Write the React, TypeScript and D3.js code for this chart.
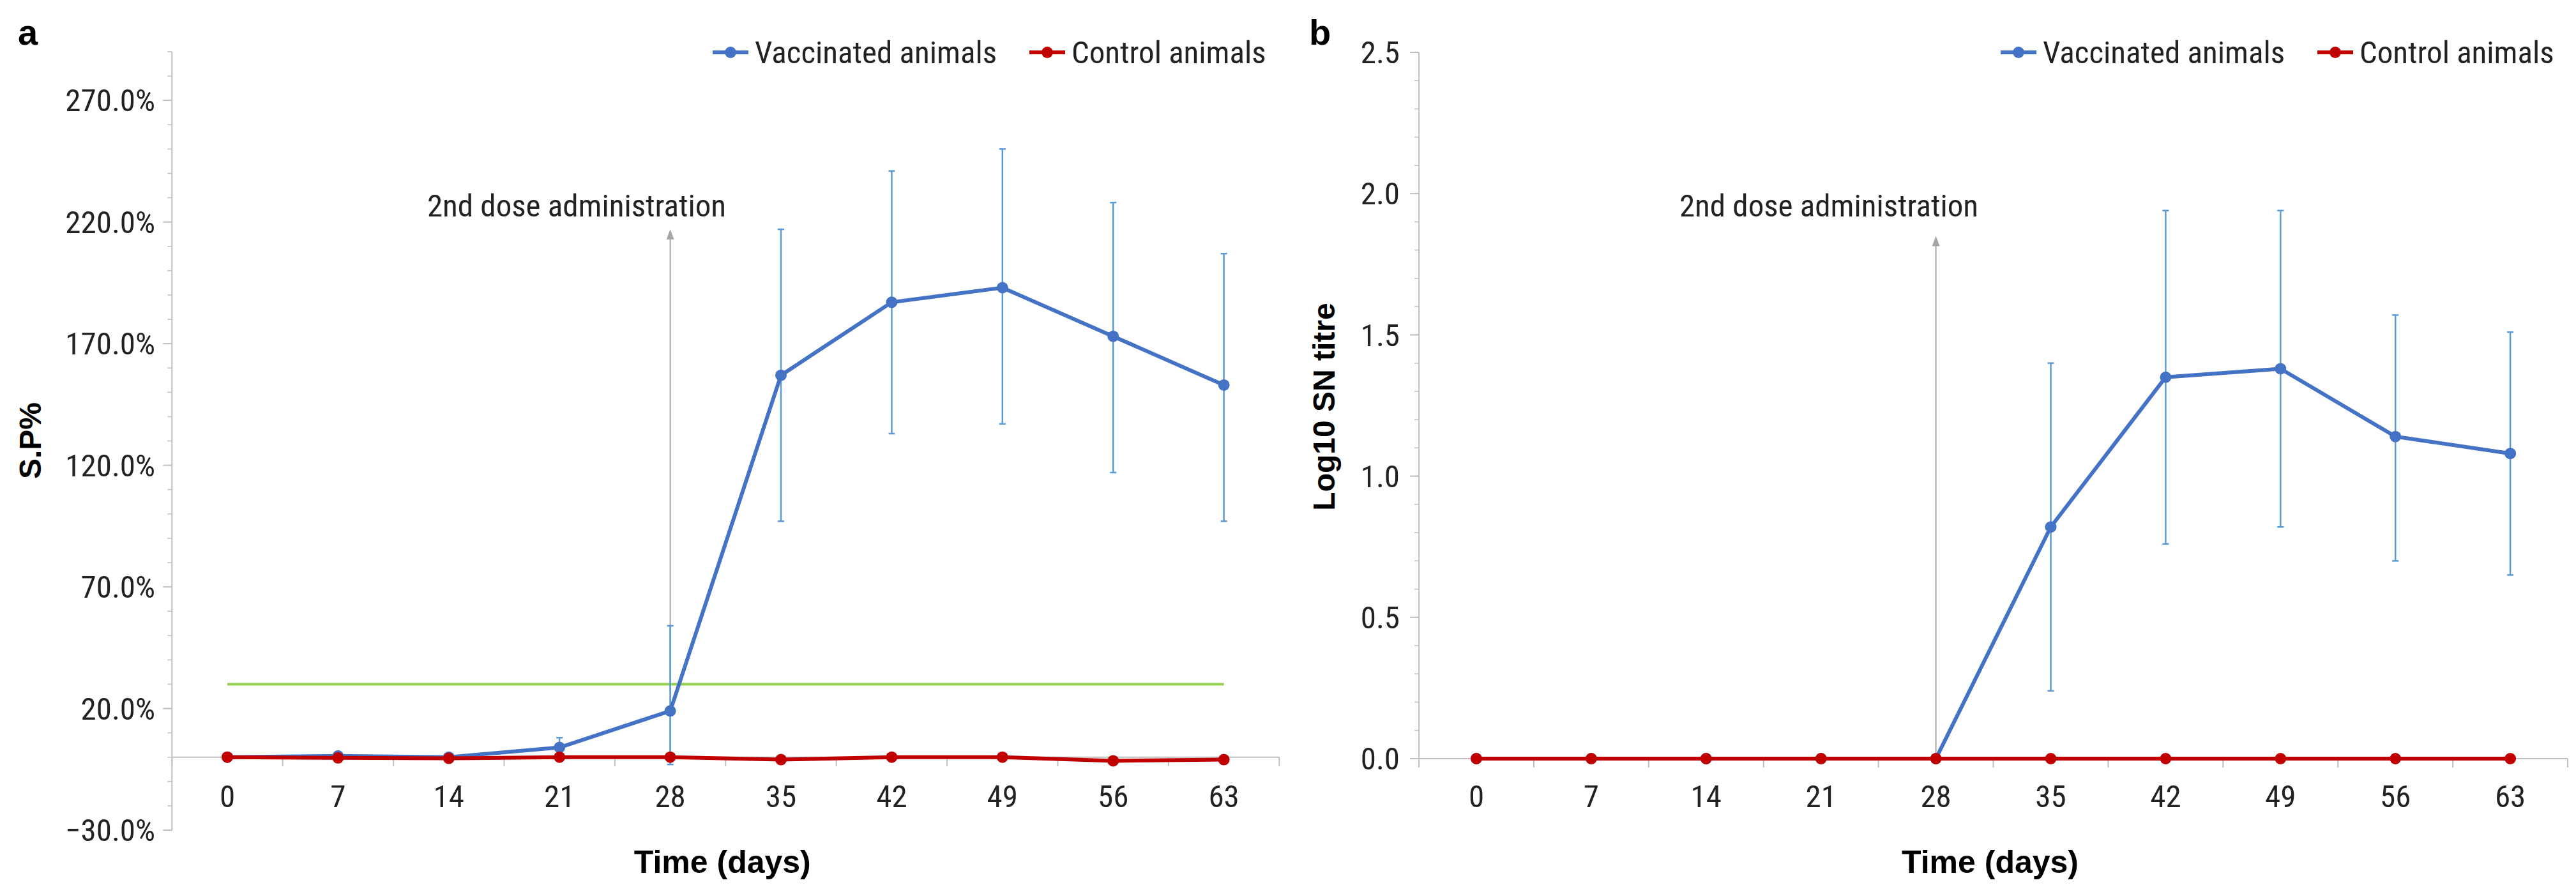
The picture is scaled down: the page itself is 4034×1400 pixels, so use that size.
import React from "react";
import * as d3 from "d3";

const days = [0, 7, 14, 21, 28, 35, 42, 49, 56, 63];
const spVacc = [0, 0.5, 0, 4, 19, 157, 187, 193, 173, 153];
const spVaccHi = [null, null, null, 8, 54, 217, 241, 250, 228, 207];
const spVaccLo = [null, null, null, 0, -3, 97, 133, 137, 117, 97];
const spCtrl = [0, -0.3, -0.5, 0, 0, -1, 0, 0, -1.5, -1];
const spCutoff = 30;
const spTicks = [-30, 20, 70, 120, 170, 220, 270];

const snVacc = [0, 0, 0, 0, 0, 0.82, 1.35, 1.38, 1.14, 1.08];
const snVaccHi = [null, null, null, null, null, 1.40, 1.94, 1.94, 1.57, 1.51];
const snVaccLo = [null, null, null, null, null, 0.24, 0.76, 0.82, 0.70, 0.65];
const snCtrl = [0, 0, 0, 0, 0, 0, 0, 0, 0, 0];
const snTicks = [0, 0.5, 1.0, 1.5, 2.0, 2.5];

const NARROW = "'Liberation Sans Narrow', 'Arial Narrow', 'Roboto Condensed', sans-serif";
const BOLD = "'Liberation Sans', Arial, sans-serif";
const BLUE = "#4472C4", RED = "#C00000", ERR = "#5B9BD5", AX = "#BFBFBF";

type P = {
  ox: number; x0: number; band: number; yDom: [number, number]; yTop: number; yBot: number;
  ticks: number[]; minor: number; fmt: (v: number) => string; vacc: number[]; hi: (number | null)[];
  lo: (number | null)[]; ctrl: number[]; cutoff?: number; arrowTop: number; ylabel: string;
  letter: string; labelEnd: number; yLabX: number; yLabY: number; textX: number; legX: number;
};

function Panel(p: P) {
  const x = d3.scalePoint<number>().domain(days).range([p.x0, p.x0 + 9 * p.band]);
  const y = d3.scaleLinear().domain(p.yDom).range([p.yBot, p.yTop]);
  const axL = p.x0 - p.band / 2, axR = p.x0 + 9.5 * p.band;
  const line = d3.line<number>().x((_, i) => x(days[i])!).y((v) => y(v));
  const minors = d3.range(p.yDom[0], p.yDom[1] + 1e-9, p.minor);
  const y0 = y(0);
  return (
    <g>
      <text x={p.ox} y={70} fontFamily={BOLD} fontWeight="bold" fontSize={56}>{p.letter}</text>
      <line x1={axL} x2={axL} y1={y(p.yDom[1])} y2={y(p.yDom[0])} stroke={AX} strokeWidth={2} />
      {minors.map((v, i) => <line key={"m" + i} x1={axL - 7} x2={axL} y1={y(v)} y2={y(v)} stroke={AX} strokeWidth={1.5} />)}
      {p.ticks.map((v) => (
        <g key={v}>
          <line x1={axL - 14} x2={axL} y1={y(v)} y2={y(v)} stroke={AX} strokeWidth={2} />
          <text x={p.labelEnd} y={y(v)} dy="0.35em" textAnchor="end" fontFamily={NARROW} fontSize={49} fill="#222">{p.fmt(v)}</text>
        </g>
      ))}
      <line x1={axL} x2={axR} y1={y0} y2={y0} stroke={AX} strokeWidth={2} />
      {d3.range(11).map((i) => <line key={"xt" + i} x1={axL + i * p.band} x2={axL + i * p.band} y1={y0} y2={y0 + 14} stroke={AX} strokeWidth={2} />)}
      {days.map((d) => (
        <text key={"xl" + d} x={x(d)!} y={1264} textAnchor="middle" fontFamily={NARROW} fontSize={49} fill="#222">{d}</text>
      ))}
      <text transform={`translate(${p.yLabX},${p.yLabY}) rotate(-90)`} textAnchor="middle" fontFamily={BOLD} fontWeight="bold" fontSize={48}>{p.ylabel}</text>
      <text x={(axL + axR) / 2 - 5} y={1367} textAnchor="middle" fontFamily={BOLD} fontWeight="bold" fontSize={50}>Time (days)</text>
      {p.cutoff !== undefined && (
        <line x1={x(0)} x2={x(63)} y1={y(p.cutoff)} y2={y(p.cutoff)} stroke="#92D050" strokeWidth={4} />
      )}
      <line x1={x(28)} x2={x(28)} y1={y0} y2={y(p.arrowTop) + 10} stroke="#A6A6A6" strokeWidth={2} />
      <path d={`M${x(28)! - 6},${y(p.arrowTop) + 16} L${x(28)},${y(p.arrowTop)} L${x(28)! + 6},${y(p.arrowTop) + 16} Z`} fill="#A6A6A6" />
      <text x={p.textX} y={322} dy="0.35em" textAnchor="middle" fontFamily={NARROW} fontSize={49} fill="#222">2nd dose administration</text>
      {days.map((d, i) => p.hi[i] === null ? null : (
        <g key={"e" + d} stroke={ERR} strokeWidth={2.5}>
          <line x1={x(d)} x2={x(d)} y1={y(p.lo[i]!)} y2={y(p.hi[i]!)} />
          <line x1={x(d)! - 5} x2={x(d)! + 5} y1={y(p.lo[i]!)} y2={y(p.lo[i]!)} />
          <line x1={x(d)! - 5} x2={x(d)! + 5} y1={y(p.hi[i]!)} y2={y(p.hi[i]!)} />
        </g>
      ))}
      <path d={line(p.vacc)!} fill="none" stroke={BLUE} strokeWidth={6} />
      {p.vacc.map((v, i) => <circle key={"v" + i} cx={x(days[i])} cy={y(v)} r={9} fill={BLUE} />)}
      <path d={line(p.ctrl)!} fill="none" stroke={RED} strokeWidth={6} />
      {p.ctrl.map((v, i) => <circle key={"c" + i} cx={x(days[i])} cy={y(v)} r={9} fill={RED} />)}
      <g>
        <line x1={p.legX - 28} x2={p.legX + 28} y1={82} y2={82} stroke={BLUE} strokeWidth={6} />
        <circle cx={p.legX} cy={82} r={9} fill={BLUE} />
        <text x={p.legX + 38} y={82} dy="0.35em" fontFamily={NARROW} fontSize={49} fill="#222">Vaccinated animals</text>
        <line x1={p.legX + 468} x2={p.legX + 524} y1={82} y2={82} stroke={RED} strokeWidth={6} />
        <circle cx={p.legX + 496} cy={82} r={9} fill={RED} />
        <text x={p.legX + 534} y={82} dy="0.35em" fontFamily={NARROW} fontSize={49} fill="#222">Control animals</text>
      </g>
    </g>
  );
}

export default function App() {
  return (
    <svg width={4034} height={1400} style={{ display: "block", margin: "-8px" }}>
      <rect width={4034} height={1400} fill="#fff" />
      <Panel ox={28} x0={356} band={173.4} yDom={[-30, 290]} yTop={81} yBot={1300} ticks={spTicks} minor={10}
        fmt={(v) => (v < 0 ? "\u2212" : "") + Math.abs(v).toFixed(1) + "%"} vacc={spVacc} hi={spVaccHi} lo={spVaccLo}
        ctrl={spCtrl} cutoff={spCutoff} arrowTop={217} ylabel="S.P%" letter="a" labelEnd={243} yLabX={64} yLabY={690}
        textX={903} legX={1144} />
      <Panel ox={2050} x0={2312} band={179.9} yDom={[0, 2.5]} yTop={82} yBot={1188} ticks={snTicks} minor={0.1}
        fmt={(v) => v.toFixed(1)} vacc={snVacc} hi={snVaccHi} lo={snVaccLo} ctrl={snCtrl} arrowTop={1.85}
        ylabel="Log10 SN titre" letter="b" labelEnd={2192} yLabX={2090} yLabY={637} textX={2864} legX={3161} />
    </svg>
  );
}
